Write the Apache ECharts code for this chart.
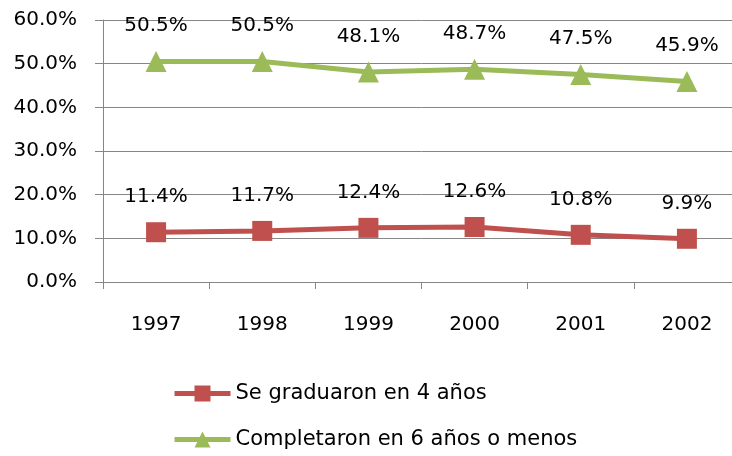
<!DOCTYPE html>
<html><head><meta charset="utf-8">
<script src="https://cdn.jsdelivr.net/npm/echarts@6/dist/echarts.min.js"></script>
<style>html,body{margin:0;padding:0;background:#fff;overflow:hidden;width:732px;height:456px}#c{width:745px;height:456px}</style>
</head><body><div id="c"></div>
<script>
const categories = ['1997','1998','1999','2000','2001','2002'];
const graduated4 = [11.4, 11.7, 12.4, 12.6, 10.8, 9.9];
const completed6 = [50.5, 50.5, 48.1, 48.7, 47.5, 45.9];
const seriesNames = ['Se graduaron en 4 años', 'Completaron en 6 años o menos'];
const FONT = 'DejaVu Sans';
const chart = echarts.init(document.getElementById('c'));
const lbl = {show:true, position:'top', distance:15, color:'#000', fontFamily:FONT, fontSize:20,
  formatter: p => p.value.toFixed(1) + '%'};
chart.setOption({
  animation:false,
  textStyle:{fontFamily:FONT},
  grid:{left:103, width:637, top:20, bottom:174, containLabel:false},
  legend:{orient:'vertical', left:172, top:383, height:120, padding:0, itemWidth:56, itemHeight:20, itemGap:25,
    lineStyle:{width:5},
    textStyle:{fontFamily:FONT, fontSize:21, color:'#000'}, data:seriesNames},
  xAxis:{type:'category', data:categories, boundaryGap:true,
    axisLine:{lineStyle:{color:'#868686', width:1}},
    axisTick:{show:true, length:7, lineStyle:{color:'#868686'}},
    axisLabel:{color:'#000', fontSize:20, fontFamily:FONT, margin:33}},
  yAxis:{type:'value', min:0, max:60, interval:10,
    axisLine:{show:true, lineStyle:{color:'#868686', width:1}},
    axisTick:{show:true, length:8, lineStyle:{color:'#868686'}},
    splitLine:{show:true, lineStyle:{color:'#868686', width:1}},
    axisLabel:{color:'#000', fontSize:20, fontFamily:FONT, margin:26, formatter: v => v.toFixed(1) + '%'}},
  series:[
    {name:seriesNames[0], type:'line', data:graduated4, symbol:'rect', symbolSize:20,
      lineStyle:{color:'#C0504D', width:5}, itemStyle:{color:'#C0504D'}, label:lbl},
    {name:seriesNames[1], type:'line', data:completed6, symbol:'triangle', symbolSize:21,
      lineStyle:{color:'#9BBB59', width:5}, itemStyle:{color:'#9BBB59'}, label:lbl}
  ]
});
</script></body></html>
